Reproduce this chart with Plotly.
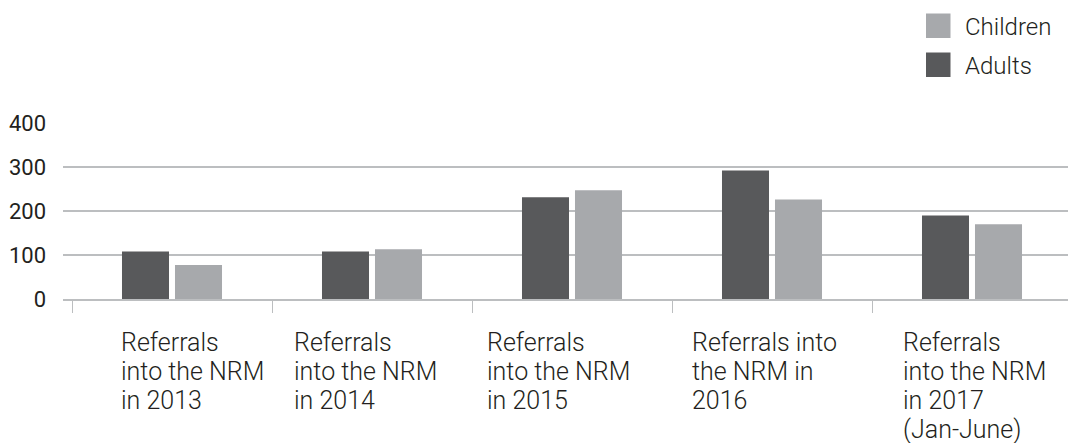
import plotly.graph_objects as go

# ---- data ----
categories = ["2013", "2014", "2015", "2016", "2017"]
label_lines = [
    ["Referrals", "into the NRM", "in 2013"],
    ["Referrals", "into the NRM", "in 2014"],
    ["Referrals", "into the NRM", "in 2015"],
    ["Referrals into", "the NRM in", "2016"],
    ["Referrals", "into the NRM", "in 2017", "(Jan-June)"],
]
adults = [108, 108, 231, 292, 190]
children = [77, 113, 247, 226, 170]
y_ticks = [0, 100, 200, 300, 400]
series_names = ["Adults", "Children"]

# ---- styles / layout ----
ADULT_COLOR = "#58595b"
CHILD_COLOR = "#a7a9ac"
GRID_COLOR = "#bcbec0"
TEXT_COLOR = "#231f20"
FONT = "Roboto"
WEIGHT = 300
label_offsets = [-0.265, -0.40, -0.435, -0.41, -0.355]  # left edge of each label, in category units

fig = go.Figure()
fig.add_trace(go.Bar(x=categories, y=adults, name=series_names[0],
                     marker=dict(color=ADULT_COLOR, line=dict(width=0)), showlegend=False))
fig.add_trace(go.Bar(x=categories, y=children, name=series_names[1],
                     marker=dict(color=CHILD_COLOR, line=dict(width=0)), showlegend=False))

annotations = []
for i, lines in enumerate(label_lines):
    for k, line in enumerate(lines):
        annotations.append(dict(
            x=i + label_offsets[i], xref="x", y=0, yref="y",
            xanchor="left", yanchor="middle", yshift=-43 - 29 * k,
            text=line, showarrow=False, align="left",
            font=dict(family=FONT, size=25, color=TEXT_COLOR, weight=WEIGHT)))

# manual legend (Children on top, Adults below)
H = 176.0
def py(p):
    return (299 - p) / H
def px(p):
    return (p - 63) / 1005.0

shapes = []
legend_items = [(series_names[1], CHILD_COLOR, 13.5), (series_names[0], ADULT_COLOR, 52.5)]
for name, color, top in legend_items:
    shapes.append(dict(type="rect", xref="paper", yref="paper",
                       x0=px(926), x1=px(950.5), y0=py(top + 24.5), y1=py(top),
                       fillcolor=color, line=dict(width=0)))
    annotations.append(dict(x=px(963), y=py(top + 13.5), xref="paper", yref="paper",
                            xanchor="left", yanchor="middle", text=name, showarrow=False,
                            font=dict(family=FONT, size=24, color=TEXT_COLOR, weight=WEIGHT)))

fig.update_layout(
    width=1068, height=443,
    margin=dict(l=63, r=0, t=123, b=144),
    paper_bgcolor="white", plot_bgcolor="white",
    barmode="group", bargap=0.47, bargroupgap=0.113,
    showlegend=False,
    font=dict(family=FONT, size=24, color=TEXT_COLOR),
    annotations=annotations, shapes=shapes,
    xaxis=dict(type="category", range=[-0.545, 4.48], tickson="boundaries",
               ticks="outside", ticklen=12, tickwidth=1, tickcolor=GRID_COLOR,
               showticklabels=False, showgrid=False,
               showline=True, linecolor=GRID_COLOR, linewidth=2),
    yaxis=dict(range=[0, 400], tickvals=y_ticks, ticktext=[str(v) for v in y_ticks],
               showgrid=True, gridcolor=GRID_COLOR, gridwidth=1.5,
               zeroline=False, showline=False, ticks="", ticklabelstandoff=16,
               tickfont=dict(family=FONT, size=22, color=TEXT_COLOR)),
)

fig.write_html("out.html", config={"displayModeBar": False},
               post_script="document.body.style.margin='0';")
